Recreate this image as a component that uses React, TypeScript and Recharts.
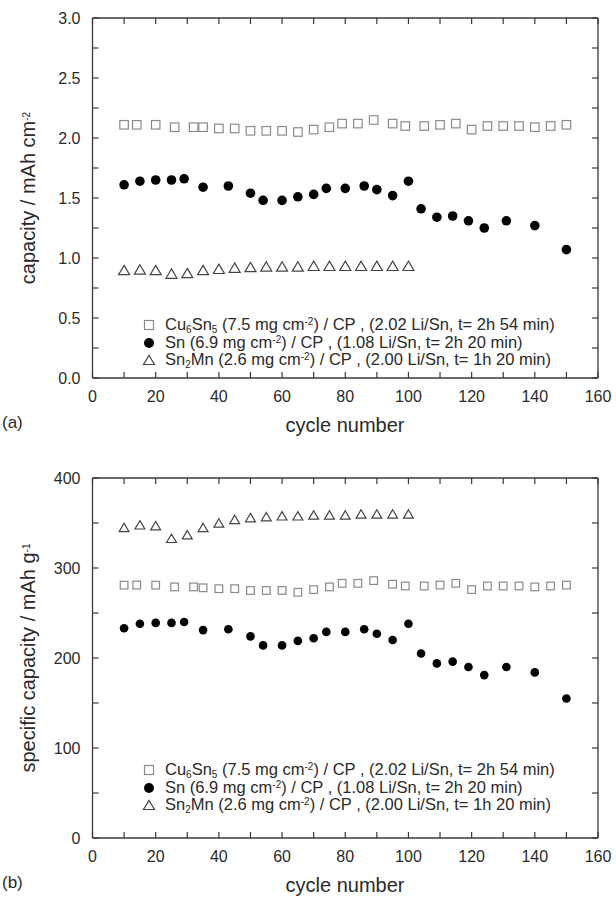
import React from 'react';
import { ScatterChart, Scatter, XAxis, YAxis, Legend } from 'recharts';

// ---------- data ----------
const cu6sn5Cycles = [10, 14, 20, 26, 32, 35, 40, 45, 50, 55, 60, 65, 70, 75, 79, 84, 89, 95, 99, 105, 110, 115, 120, 125, 130, 135, 140, 145, 150];
const cu6sn5Areal = [2.11, 2.11, 2.11, 2.09, 2.09, 2.09, 2.08, 2.08, 2.06, 2.06, 2.06, 2.05, 2.07, 2.09, 2.12, 2.12, 2.15, 2.12, 2.10, 2.10, 2.11, 2.12, 2.07, 2.10, 2.10, 2.10, 2.09, 2.10, 2.11];
const cu6sn5Specific = [281, 281, 281, 279, 279, 278, 277, 277, 275, 275, 275, 273, 276, 279, 283, 283, 286, 282, 280, 280, 281, 283, 276, 280, 280, 280, 279, 280, 281];

const snCycles = [10, 15, 20, 25, 29, 35, 43, 50, 54, 60, 65, 70, 74, 80, 86, 90, 95, 100, 104, 109, 114, 119, 124, 131, 140, 150];
const snAreal = [1.61, 1.64, 1.65, 1.65, 1.66, 1.59, 1.60, 1.54, 1.48, 1.48, 1.51, 1.53, 1.58, 1.58, 1.60, 1.57, 1.52, 1.64, 1.41, 1.34, 1.35, 1.31, 1.25, 1.31, 1.27, 1.07];
const snSpecific = [233, 238, 239, 239, 240, 231, 232, 224, 214, 214, 219, 222, 229, 229, 232, 227, 220, 238, 205, 194, 196, 190, 181, 190, 184, 155];

const sn2mnCycles = [10, 15, 20, 25, 30, 35, 40, 45, 50, 55, 60, 65, 70, 75, 80, 85, 90, 95, 100];
const sn2mnAreal = [0.90, 0.905, 0.90, 0.87, 0.875, 0.90, 0.91, 0.92, 0.925, 0.93, 0.93, 0.93, 0.935, 0.935, 0.935, 0.935, 0.935, 0.935, 0.935];
const sn2mnSpecific = [345, 348, 347, 333, 337, 345, 350, 354, 356, 357, 358, 358, 359, 359, 359, 360, 360, 360, 360];

const xTicks = [0, 10, 20, 30, 40, 50, 60, 70, 80, 90, 100, 110, 120, 130, 140, 150, 160];
const arealTicks = [0, 0.25, 0.5, 0.75, 1, 1.25, 1.5, 1.75, 2, 2.25, 2.5, 2.75, 3];
const specificTicks = [0, 50, 100, 150, 200, 250, 300, 350, 400];

// ---------- styles ----------
const FONT = '"Liberation Sans", Arial, Helvetica, sans-serif';
const TXT = '#2a2a2a';
const AX = '#3a3a3a';
const TICK = 6;

const toPts = (xs: number[], ys: number[]) => xs.map((x, i) => ({ x, y: ys[i] }));

const makeSquare = (s: number) => (p: any) => (
  <rect x={p.cx - s / 2} y={p.cy - s / 2} width={s} height={s} fill="#fff" stroke="#8a8a8a" strokeWidth={1.2} />
);
const makeCircle = (r: number) => (p: any) => <circle cx={p.cx} cy={p.cy} r={r} fill="#000" />;
const makeTriangle = (s: number) => (p: any) => {
  const h = s * 0.85;
  return (
    <path
      d={`M${p.cx},${p.cy - h / 2} L${p.cx + s / 2},${p.cy + h / 2} L${p.cx - s / 2},${p.cy + h / 2} Z`}
      fill="#fff"
      stroke="#444"
      strokeWidth={1.2}
    />
  );
};

const bottomTick = (props: any) => {
  const { x, y, payload } = props;
  const v = payload.value;
  return (
    <g>
      <line x1={x} y1={y} x2={x} y2={y - TICK} stroke={AX} strokeWidth={1.2} />
      {v % 20 === 0 && (
        <text x={x} y={y + 24} textAnchor="middle" fontSize={16} fill={TXT} fontFamily={FONT}>
          {v}
        </text>
      )}
    </g>
  );
};
const topTick = (props: any) => {
  const { x, y } = props;
  return <line x1={x} y1={y} x2={x} y2={y + TICK} stroke={AX} strokeWidth={1.2} />;
};
const makeLeftTick = (isMajor: (v: number) => boolean, fmt: (v: number) => string) => (props: any) => {
  const { x, y, payload } = props;
  const v = payload.value;
  return (
    <g>
      <line x1={x} y1={y} x2={x + TICK} y2={y} stroke={AX} strokeWidth={1.2} />
      {isMajor(v) && (
        <text x={x - 12} y={y + 6} textAnchor="end" fontSize={16} fill={TXT} fontFamily={FONT}>
          {fmt(v)}
        </text>
      )}
    </g>
  );
};
const rightTick = (props: any) => {
  const { x, y } = props;
  return <line x1={x} y1={y} x2={x - TICK} y2={y} stroke={AX} strokeWidth={1.2} />;
};

const sub = (t: string) => <span style={{ fontSize: 10, position: 'relative', top: 2.5 }}>{t}</span>;
const sup = (t: string) => <span style={{ fontSize: 10, position: 'relative', top: -5 }}>{t}</span>;

const legendRows = [
  {
    sym: 'square',
    text: (
      <>Cu{sub('6')}Sn{sub('5')} (7.5 mg cm{sup('-2')}) / CP , (2.02 Li/Sn, t= 2h 54 min)</>
    ),
  },
  { sym: 'circle', text: <>Sn (6.9 mg cm{sup('-2')}) / CP , (1.08 Li/Sn, t= 2h 20 min)</> },
  {
    sym: 'triangle',
    text: (
      <>Sn{sub('2')}Mn (2.6 mg cm{sup('-2')}) / CP , (2.00 Li/Sn, t= 1h 20 min)</>
    ),
  },
];

const LegendSymbol = ({ kind }: { kind: string }) => (
  <svg width={14} height={14} style={{ position: 'absolute', left: 0, top: 2 }}>
    {kind === 'square' && <rect x={2.5} y={2.5} width={9} height={9} fill="#fff" stroke="#8a8a8a" strokeWidth={1.2} />}
    {kind === 'circle' && <circle cx={7} cy={7} r={5} fill="#000" />}
    {kind === 'triangle' && <path d="M7,2.5 L12.5,11.5 L1.5,11.5 Z" fill="#fff" stroke="#444" strokeWidth={1.2} />}
  </svg>
);

const LegendBox = () => (
  <div style={{ fontFamily: FONT, fontSize: 16.5, color: TXT }}>
    {legendRows.map((r, i) => (
      <div key={i} style={{ position: 'relative', height: 17.5, lineHeight: '17.5px', whiteSpace: 'nowrap', paddingLeft: 23 }}>
        <LegendSymbol kind={r.sym} />
        {r.text}
      </div>
    ))}
  </div>
);

type PanelProps = {
  top: number;
  letter: string;
  yDomain: [number, number];
  yTicks: number[];
  isMajor: (v: number) => boolean;
  fmt: (v: number) => string;
  yTitle: React.ReactNode;
  cu: number[];
  sn: number[];
  mn: number[];
  legendTop: number;
  k: number;
};

const Panel = (p: PanelProps) => {
  const axisLine = { stroke: AX, strokeWidth: 1.3 };
  return (
    <div style={{ position: 'absolute', left: 0, top: p.top, width: 616, height: 442 }}>
      <ScatterChart width={616} height={442} margin={{ top: 17, right: 17, bottom: 24, left: 0 }}>
        <XAxis
          xAxisId="b"
          dataKey="x"
          type="number"
          domain={[0, 160]}
          ticks={xTicks}
          interval={0}
          tickSize={0}
          tickMargin={0}
          height={40}
          axisLine={axisLine}
          tick={bottomTick}
          allowDataOverflow
        />
        <XAxis
          xAxisId="t"
          orientation="top"
          dataKey="x"
          type="number"
          domain={[0, 160]}
          ticks={xTicks}
          interval={0}
          tickSize={0}
          tickMargin={0}
          height={1}
          axisLine={axisLine}
          tick={topTick}
          allowDataOverflow
        />
        <YAxis
          yAxisId="l"
          dataKey="y"
          type="number"
          domain={p.yDomain}
          ticks={p.yTicks}
          interval={0}
          tickSize={0}
          tickMargin={0}
          width={92.5}
          axisLine={axisLine}
          tick={makeLeftTick(p.isMajor, p.fmt)}
          allowDataOverflow
        />
        <YAxis
          yAxisId="r"
          orientation="right"
          dataKey="y"
          type="number"
          domain={p.yDomain}
          ticks={p.yTicks}
          interval={0}
          tickSize={0}
          tickMargin={0}
          width={1}
          axisLine={axisLine}
          tick={rightTick}
          allowDataOverflow
        />
        <Scatter
          name="Cu6Sn5"
          xAxisId="b"
          yAxisId="l"
          data={toPts(cu6sn5Cycles, p.cu)}
          shape={makeSquare(8.5 * p.k)}
          isAnimationActive={false}
        />
        <Scatter
          name="Sn"
          xAxisId="b"
          yAxisId="l"
          data={toPts(snCycles, p.sn)}
          shape={makeCircle(4.8 * p.k)}
          isAnimationActive={false}
        />
        <Scatter
          name="Sn2Mn"
          xAxisId="t"
          yAxisId="r"
          data={toPts(sn2mnCycles, p.mn)}
          shape={makeTriangle(11 * p.k)}
          isAnimationActive={false}
        />
        <Legend
          layout="horizontal"
          verticalAlign="middle"
          align="center"
          content={() => <LegendBox />}
          wrapperStyle={{ left: 142, top: p.legendTop, width: 466, height: 54 }}
        />
      </ScatterChart>
      <div
        style={{
          position: 'absolute',
          left: 28,
          top: 198,
          transform: 'translate(-50%, -50%) rotate(-90deg)',
          whiteSpace: 'nowrap',
          fontFamily: FONT,
          fontSize: 20,
          color: TXT,
        }}
      >
        {p.yTitle}
      </div>
      <div
        style={{
          position: 'absolute',
          left: 345,
          top: 425,
          transform: 'translate(-50%, -50%)',
          whiteSpace: 'nowrap',
          fontFamily: FONT,
          fontSize: 20,
          color: TXT,
        }}
      >
        cycle number
      </div>
      <div
        style={{
          position: 'absolute',
          left: 2,
          top: 413,
          whiteSpace: 'nowrap',
          fontFamily: FONT,
          fontSize: 17,
          color: TXT,
        }}
      >
        {p.letter}
      </div>
    </div>
  );
};

export default function App() {
  return (
    <div style={{ position: 'absolute', left: 0, top: 0, width: 616, height: 902, background: '#fff' }}>
      <Panel
        top={0}
        letter="(a)"
        yDomain={[0, 3]}
        yTicks={arealTicks}
        isMajor={(v) => Math.abs(v * 2 - Math.round(v * 2)) < 1e-9}
        fmt={(v) => v.toFixed(1)}
        yTitle={<>capacity / mAh cm{sup('-2')}</>}
        cu={cu6sn5Areal}
        sn={snAreal}
        mn={sn2mnAreal}
        legendTop={316}
        k={1}
      />
      <Panel
        top={460}
        letter="(b)"
        yDomain={[0, 400]}
        yTicks={specificTicks}
        isMajor={(v) => v % 100 === 0}
        fmt={(v) => String(v)}
        yTitle={<>specific capacity / mAh g{sup('-1')}</>}
        cu={cu6sn5Specific}
        sn={snSpecific}
        mn={sn2mnSpecific}
        legendTop={301}
        k={0.9}
      />
    </div>
  );
}
